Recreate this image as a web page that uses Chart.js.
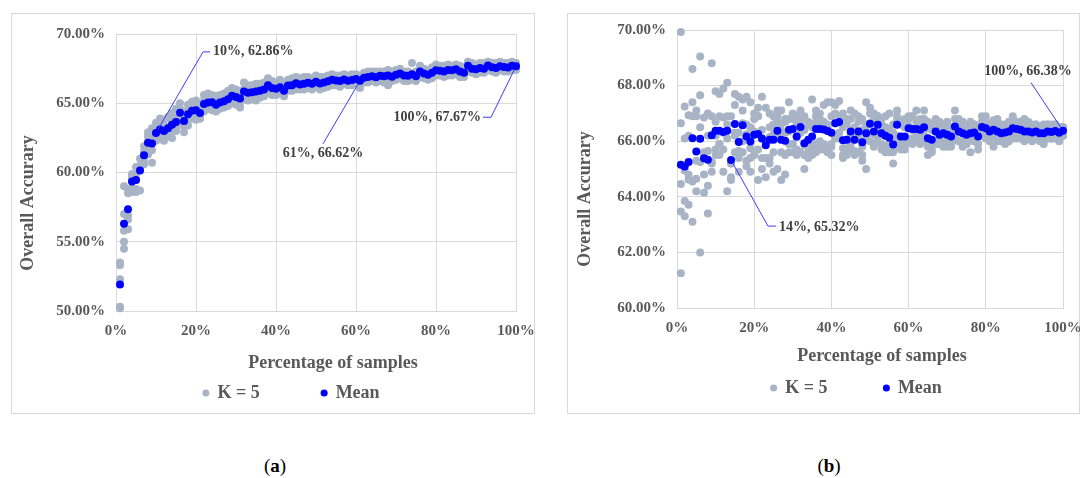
<!DOCTYPE html>
<html>
<head>
<meta charset="utf-8">
<script src="https://cdn.jsdelivr.net/npm/chart.js@4.4.1/dist/chart.umd.min.js"></script>
<style>
  html, body { margin: 0; padding: 0; background: #fff; }
  body { width: 1083px; height: 478px; position: relative; overflow: hidden;
         font-family: "Liberation Serif", "Times New Roman", serif; }
  .panel { position: absolute; }
  .panel canvas { display: block; }
  .caption { position: absolute; top: 455px; width: 60px; text-align: center;
             font-size: 19px; line-height: 22px; color: #000; }
</style>
</head>
<body>
<div class="panel" style="left:11px;top:13px;width:524px;height:401px"><canvas id="chartA" width="524" height="401"></canvas></div>
<div class="panel" style="left:567px;top:13px;width:513px;height:401px"><canvas id="chartB" width="513" height="401"></canvas></div>
<div class="caption" style="left:245px">(<b>a</b>)</div>
<div class="caption" style="left:799px">(<b>b</b>)</div>

<script>
// Percentage of the training samples used (x values shared by both panels)
const samplePct = [
  1, 2, 3, 4, 5, 6, 7, 8, 9, 10, 11, 12, 13, 14, 15, 16, 17, 18, 19, 20,
  21, 22, 23, 24, 25, 26, 27, 28, 29, 30, 31, 32, 33, 34, 35, 36, 37, 38, 39, 40,
  41, 42, 43, 44, 45, 46, 47, 48, 49, 50, 51, 52, 53, 54, 55, 56, 57, 58, 59, 60,
  61, 62, 63, 64, 65, 66, 67, 68, 69, 70, 71, 72, 73, 74, 75, 76, 77, 78, 79, 80,
  81, 82, 83, 84, 85, 86, 87, 88, 89, 90, 91, 92, 93, 94, 95, 96, 97, 98, 99, 100
];

// (a) mean overall accuracy (%) per sample percentage
const meanA = [
  51.92, 56.30, 57.35, 59.35, 59.45, 60.15, 61.25, 62.15, 62.10, 62.86,
  63.10, 63.00, 63.20, 63.45, 63.65, 64.32, 63.72, 64.20, 64.45, 64.50,
  64.30, 64.95, 65.05, 65.08, 64.90, 65.05, 65.15, 65.28, 65.55, 65.45,
  65.35, 65.85, 65.75, 65.80, 65.85, 65.90, 66.00, 66.30, 66.10, 66.05,
  66.15, 65.90, 66.28, 66.30, 66.45, 66.35, 66.40, 66.48, 66.40, 66.55,
  66.42, 66.50, 66.58, 66.70, 66.65, 66.60, 66.72, 66.62, 66.68, 66.75,
  66.62, 66.85, 66.90, 66.95, 66.88, 66.98, 66.95, 67.00, 66.92, 67.05,
  67.15, 67.00, 66.98, 67.10, 66.95, 67.30, 67.15, 67.05, 67.20, 67.38,
  67.35, 67.30, 67.40, 67.38, 67.45, 67.30, 67.20, 67.70, 67.50, 67.45,
  67.55, 67.50, 67.72, 67.60, 67.55, 67.68, 67.62, 67.58, 67.70, 67.67
];

// (a) the five fold results (%) for each sample percentage
const foldsA = [
  [50.3, 50.2, 52.3, 53.5, 53.3], [54.5, 55.0, 55.8, 57.0, 59.0], [56.9, 58.5, 58.8, 55.9, 56.6],
  [58.6, 59.8, 59.6, 58.9, 59.9], [58.6, 60.4, 58.8, 59.9, 59.5], [58.7, 61.0, 60.4, 60.2, 60.5],
  [60.6, 61.9, 61.4, 60.9, 61.5], [61.3, 62.9, 62.6, 61.8, 62.2], [60.7, 63.2, 61.6, 62.5, 62.5],
  [62.3, 63.6, 63.2, 62.5, 62.7], [62.4, 63.9, 63.4, 62.6, 63.2], [62.3, 63.8, 63.0, 62.7, 63.2],
  [62.6, 64.0, 63.3, 62.8, 63.3], [62.5, 64.3, 63.6, 63.0, 63.85], [63.0, 64.6, 63.9, 63.2, 63.55],
  [63.6, 65.0, 64.6, 63.9, 64.5], [62.9, 64.4, 63.9, 63.3, 64.1], [63.4, 64.9, 64.5, 63.8, 64.4],
  [63.9, 65.1, 64.7, 64.0, 64.55], [63.8, 65.2, 64.8, 64.1, 64.6], [63.9, 64.9, 64.6, 63.9, 64.2],
  [64.4, 65.6, 65.2, 64.5, 65.05], [64.6, 65.7, 65.3, 64.6, 65.05], [64.5, 65.6, 65.4, 64.7, 65.2],
  [64.4, 65.5, 65.1, 64.5, 65.0], [64.6, 65.6, 65.3, 64.7, 65.05], [64.7, 65.7, 65.4, 64.8, 65.15],
  [64.8, 65.9, 65.5, 64.9, 65.3], [65.0, 66.1, 65.8, 65.2, 65.65], [64.9, 66.0, 65.7, 65.0, 65.65],
  [64.7, 65.9, 65.6, 65.0, 65.55], [65.3, 66.5, 66.0, 65.5, 65.95], [65.2, 66.3, 66.0, 65.4, 65.85],
  [65.3, 66.3, 66.1, 65.4, 65.9], [65.2, 66.4, 66.1, 65.5, 66.05], [65.4, 66.4, 66.1, 65.6, 66.0],
  [65.5, 66.5, 66.2, 65.7, 66.1], [65.8, 66.8, 66.5, 66.0, 66.4], [65.6, 66.6, 66.3, 65.8, 66.2],
  [65.6, 66.5, 66.3, 65.7, 66.15], [65.7, 66.7, 66.3, 65.8, 66.25], [65.5, 66.4, 66.1, 65.6, 65.9],
  [65.9, 66.7, 66.5, 66.0, 66.3], [65.9, 66.8, 66.5, 66.0, 66.3], [66.0, 66.9, 66.6, 66.2, 66.55],
  [66.0, 66.8, 66.5, 66.1, 66.35], [66.0, 66.9, 66.6, 66.1, 66.4], [66.1, 66.9, 66.7, 66.2, 66.5],
  [66.0, 66.8, 66.6, 66.1, 66.5], [66.2, 67.0, 66.7, 66.3, 66.55], [66.0, 66.9, 66.6, 66.2, 66.4],
  [66.1, 66.9, 66.7, 66.3, 66.5], [66.2, 67.0, 66.8, 66.3, 66.6], [66.3, 67.1, 66.9, 66.5, 66.7],
  [66.3, 67.0, 66.8, 66.4, 66.75], [66.2, 67.0, 66.8, 66.4, 66.6], [66.4, 67.1, 66.9, 66.5, 66.7],
  [66.3, 67.0, 66.8, 66.4, 66.6], [66.3, 67.1, 66.8, 66.5, 66.7], [66.4, 67.1, 66.9, 66.5, 66.85],
  [66.1, 67.0, 66.9, 66.4, 66.7], [66.5, 67.2, 67.0, 66.6, 66.95], [66.5, 67.3, 67.1, 66.7, 66.9],
  [66.6, 67.3, 67.1, 66.7, 67.05], [66.5, 67.3, 67.0, 66.7, 66.9], [66.6, 67.3, 67.2, 66.8, 67.0],
  [66.5, 67.3, 67.1, 66.8, 67.05], [66.3, 67.4, 67.2, 66.8, 67.3], [66.6, 67.3, 67.1, 66.7, 66.9],
  [66.7, 67.4, 67.2, 66.8, 67.15], [66.8, 67.5, 67.3, 66.9, 67.25], [66.6, 67.3, 67.2, 66.8, 67.1],
  [66.6, 67.3, 67.2, 66.8, 67.0], [66.7, 67.9, 67.1, 66.8, 67.0], [66.6, 67.3, 67.1, 66.7, 67.05],
  [66.9, 67.7, 67.5, 67.0, 67.4], [66.8, 67.5, 67.3, 66.9, 67.25], [66.7, 67.4, 67.2, 66.8, 67.15],
  [66.8, 67.6, 67.4, 67.0, 67.2], [67.0, 67.8, 67.5, 67.1, 67.5], [67.0, 67.7, 67.5, 67.1, 67.45],
  [66.9, 67.7, 67.5, 67.1, 67.3], [67.0, 67.8, 67.6, 67.2, 67.4], [67.0, 67.7, 67.6, 67.1, 67.5],
  [67.1, 67.8, 67.6, 67.2, 67.55], [66.9, 67.7, 67.5, 67.0, 67.4], [66.9, 67.6, 67.4, 67.0, 67.1],
  [67.3, 68.0, 67.9, 67.5, 67.8], [67.2, 67.9, 67.6, 67.3, 67.5], [67.1, 67.8, 67.6, 67.2, 67.55],
  [67.2, 67.9, 67.7, 67.3, 67.65], [67.2, 67.9, 67.6, 67.3, 67.5], [67.4, 68.0, 67.9, 67.5, 67.8],
  [67.3, 67.9, 67.8, 67.4, 67.6], [67.2, 67.9, 67.7, 67.3, 67.65], [67.4, 68.0, 67.8, 67.5, 67.7],
  [67.3, 67.9, 67.8, 67.4, 67.7], [67.3, 67.9, 67.7, 67.4, 67.6], [67.4, 68.0, 67.9, 67.5, 67.7],
  [67.4, 67.9, 67.8, 67.5, 67.75]
];

// (b) mean overall accuracy (%) per sample percentage
const meanB = [
  65.15, 65.09, 65.25, 66.11, 65.63, 66.09, 65.39, 65.33, 66.21, 66.38,
  66.38, 66.33, 66.38, 65.32, 66.62, 65.97, 66.57, 66.17, 65.99, 66.23,
  66.26, 66.10, 65.85, 66.05, 66.05, 66.38, 66.05, 66.02, 66.41, 66.44,
  66.17, 66.51, 65.93, 66.05, 66.17, 66.44, 66.44, 66.42, 66.37, 66.30,
  66.65, 66.69, 66.03, 66.05, 66.35, 66.05, 66.35, 65.96, 66.29, 66.63,
  66.35, 66.59, 66.29, 66.20, 66.12, 65.88, 66.59, 66.17, 66.17, 66.47,
  66.44, 66.44, 66.41, 66.50, 66.11, 66.05, 66.35, 66.23, 66.29, 66.23,
  66.17, 66.53, 66.35, 66.29, 66.23, 66.29, 66.31, 66.17, 66.51, 66.47,
  66.35, 66.41, 66.35, 66.29, 66.31, 66.35, 66.47, 66.44, 66.41, 66.35,
  66.35, 66.31, 66.35, 66.29, 66.29, 66.35, 66.33, 66.37, 66.30, 66.38
];

// (b) the five fold results (%) for each sample percentage
const foldsB = [
  [69.93, 61.25, 66.65, 64.46, 63.47], [63.3, 67.25, 63.85, 66.1, 64.95], [66.93, 66.2, 64.79, 63.71, 64.62],
  [68.6, 67.4, 66.9, 64.55, 63.1], [67.1, 66.9, 65.3, 64.2, 64.65], [69.05, 67.65, 66.5, 62.0, 65.25],
  [66.85, 64.15, 64.8, 65.6, 65.55], [67.0, 63.4, 64.4, 66.2, 65.65], [68.8, 66.9, 65.2, 64.9, 65.25],
  [67.8, 66.7, 66.2, 65.7, 65.5], [67.7, 66.9, 65.5, 65.9, 65.9], [67.9, 66.85, 64.9, 65.7, 66.3],
  [68.1, 66.9, 64.2, 66.1, 66.6], [66.9, 64.7, 64.6, 65.2, 65.2], [67.7, 67.3, 66.2, 65.6, 66.3],
  [67.6, 66.3, 64.9, 65.4, 65.65], [67.5, 67.1, 66.0, 65.6, 66.65], [67.6, 66.6, 65.3, 65.1, 66.25],
  [67.4, 66.5, 65.4, 64.9, 65.75], [67.0, 66.8, 65.5, 65.5, 66.35], [67.2, 66.9, 64.6, 65.7, 66.9],
  [67.6, 66.4, 65.0, 65.4, 66.1], [67.2, 66.0, 64.7, 65.4, 65.95], [67.0, 66.5, 65.4, 65.2, 66.15],
  [66.6, 66.9, 64.9, 65.6, 66.25], [67.1, 66.9, 65.0, 66.2, 66.7], [67.1, 66.6, 64.6, 65.6, 66.35],
  [66.7, 66.8, 64.8, 65.5, 66.3], [67.4, 66.8, 65.6, 65.9, 66.35], [67.0, 66.9, 65.9, 65.6, 66.8],
  [66.9, 66.6, 65.5, 65.7, 66.15], [67.1, 66.8, 65.6, 66.3, 66.75], [66.9, 66.4, 65.0, 65.5, 65.85],
  [66.7, 66.6, 65.6, 65.4, 65.95], [67.5, 66.5, 65.5, 65.6, 65.75], [67.1, 66.9, 65.6, 65.9, 66.7],
  [67.0, 66.8, 65.7, 66.0, 66.7], [67.3, 66.7, 65.7, 65.9, 66.5], [67.4, 66.6, 65.6, 65.8, 66.45],
  [67.4, 66.9, 65.5, 65.8, 65.9], [67.3, 67.0, 66.1, 66.2, 66.65], [67.45, 66.9, 66.3, 66.1, 66.7],
  [67.0, 66.5, 65.4, 65.5, 65.75], [66.8, 66.6, 65.5, 65.6, 65.75], [67.1, 66.8, 65.7, 65.9, 66.25],
  [67.0, 66.5, 65.6, 65.5, 65.65], [66.9, 66.7, 65.6, 66.2, 66.35], [66.8, 66.4, 65.3, 65.5, 65.8],
  [67.4, 66.6, 65.0, 66.1, 66.35], [67.2, 67.0, 66.0, 66.3, 66.65], [67.0, 66.8, 65.8, 65.9, 66.25],
  [66.9, 66.9, 66.1, 66.3, 66.75], [66.8, 66.6, 65.7, 65.9, 66.45], [66.9, 66.5, 65.6, 65.8, 66.2],
  [67.0, 66.4, 65.7, 65.6, 65.9], [66.6, 66.3, 65.2, 65.6, 65.7], [67.1, 66.9, 66.0, 66.2, 66.75],
  [66.7, 66.6, 65.7, 65.8, 66.05], [66.8, 66.5, 65.7, 65.8, 66.05], [66.9, 66.8, 66.0, 66.1, 66.55],
  [66.9, 66.9, 65.9, 66.1, 66.4], [67.1, 66.7, 66.0, 66.1, 66.3], [66.8, 66.7, 65.9, 66.2, 66.45],
  [67.1, 66.8, 66.0, 66.2, 66.4], [66.7, 66.5, 65.5, 65.8, 66.05], [66.6, 66.4, 65.6, 65.7, 65.95],
  [66.8, 66.7, 65.9, 66.0, 66.35], [66.7, 66.5, 65.9, 65.9, 66.15], [66.6, 66.6, 65.8, 66.1, 66.35],
  [66.7, 66.5, 65.8, 66.0, 66.15], [66.5, 66.4, 65.8, 65.9, 66.25], [67.1, 66.8, 66.1, 66.2, 66.45],
  [66.8, 66.6, 66.0, 66.0, 66.35], [66.7, 66.6, 65.8, 66.0, 66.35], [66.6, 66.5, 65.9, 65.9, 66.25],
  [66.7, 66.5, 65.6, 66.1, 66.55], [66.6, 66.6, 66.0, 66.0, 66.35], [66.5, 66.4, 65.7, 65.9, 66.35],
  [66.9, 66.7, 66.2, 66.2, 66.55], [66.9, 66.7, 66.1, 66.2, 66.45], [66.6, 66.6, 66.0, 66.1, 66.45],
  [66.7, 66.6, 65.8, 66.2, 66.75], [66.8, 66.5, 66.0, 66.1, 66.35], [66.6, 66.5, 66.0, 66.0, 66.35],
  [66.6, 66.5, 65.9, 66.1, 66.45], [66.7, 66.6, 66.0, 66.1, 66.35], [66.9, 66.6, 66.1, 66.2, 66.55],
  [66.7, 66.7, 66.1, 66.2, 66.5], [66.7, 66.6, 66.1, 66.2, 66.45], [66.8, 66.5, 66.0, 66.1, 66.35],
  [66.7, 66.6, 66.1, 66.1, 66.25], [66.6, 66.5, 66.0, 66.1, 66.35], [66.6, 66.6, 66.1, 66.1, 66.35],
  [66.5, 66.5, 66.0, 66.1, 66.35], [66.6, 66.5, 65.9, 66.1, 66.35], [66.6, 66.6, 66.1, 66.1, 66.35],
  [66.6, 66.5, 66.1, 66.1, 66.35], [66.6, 66.6, 66.1, 66.2, 66.35], [66.5, 66.5, 66.0, 66.1, 66.4],
  [66.5, 66.5, 66.2, 66.2, 66.5]
];

// Tick values of each accuracy axis
const yTicksA = [50, 55, 60, 65, 70];
const yTicksB = [60, 62, 64, 66, 68, 70];
const xTicks = [0, 20, 40, 60, 80, 100];

// Labelled mean points (sample percentage)
const calloutPctA = [10, 61, 100];
const calloutPctB = [14, 100];

const seriesLabels = ['K = 5', 'Mean'];
const xTitle = 'Percentage of samples';
const yTitle = 'Overall Accurary';

const SERIF = "'Liberation Serif', 'Times New Roman', serif";
const GREY_TEXT = '#595959';
const GRID = '#d9d9d9';
Chart.defaults.font.family = SERIF;

// Frame around each panel
const panelFrame = {
  id: 'panelFrame',
  beforeDraw(chart) {
    const { ctx, width, height } = chart;
    ctx.save();
    ctx.fillStyle = '#fff';
    ctx.fillRect(0, 0, width, height);
    ctx.strokeStyle = GRID;
    ctx.lineWidth = 1;
    ctx.strokeRect(0.5, 0.5, width - 1, height - 1);
    ctx.restore();
  }
};

// Axis titles placed like the spreadsheet layout
const axisTitles = {
  id: 'axisTitles',
  afterDraw(chart, args, o) {
    const { ctx } = chart;
    ctx.save();
    ctx.fillStyle = GREY_TEXT;
    ctx.font = `bold 18px ${SERIF}`;
    ctx.textAlign = 'center';
    ctx.textBaseline = 'middle';
    ctx.fillText(o.xText, o.xAt[0], o.xAt[1]);
    ctx.translate(o.yAt[0], o.yAt[1]);
    ctx.rotate(-Math.PI / 2);
    ctx.fillText(o.yText, 0, 0);
    ctx.restore();
  }
};

// Value labels with leader lines, anchored on the mean points
const callouts = {
  id: 'callouts',
  afterDatasetsDraw(chart, args, o) {
    const { ctx, scales: { x, y } } = chart;
    ctx.save();
    o.items.forEach(c => {
      const px = x.getPixelForValue(c.pct);
      const py = y.getPixelForValue(c.value);
      const first = c.path[0];
      const len = Math.hypot(first[0], first[1]);
      const r = 4;
      ctx.strokeStyle = '#3c3cff';
      ctx.lineWidth = 1;
      ctx.beginPath();
      ctx.moveTo(px + first[0] / len * r, py + first[1] / len * r);
      c.path.forEach(([dx, dy]) => ctx.lineTo(px + dx, py + dy));
      ctx.stroke();
      ctx.fillStyle = '#404040';
      ctx.font = `bold 14px ${SERIF}`;
      ctx.textAlign = c.align;
      ctx.textBaseline = 'middle';
      ctx.fillText(`${c.pct}%, ${c.value.toFixed(2)}%`, px + c.text[0], py + c.text[1]);
    });
    ctx.restore();
  }
};

function foldPoints(folds) {
  const pts = [];
  folds.forEach((row, i) => row.forEach(v => pts.push({ x: samplePct[i], y: v })));
  return pts;
}
function meanPoints(means) {
  return means.map((v, i) => ({ x: samplePct[i], y: v }));
}

// Fixed axis box sizes; tick labels are allowed to spill outside the box
function fixAxisBox(size, horizontal) {
  return s => {
    if (horizontal) { s.height = size; s.paddingLeft = 0; s.paddingRight = 0; }
    else { s.width = size; s.paddingTop = 0; s.paddingBottom = 0; }
    s._computeLabelArea = () => undefined;
  };
}

function buildChart(id, g) {
  return new Chart(document.getElementById(id), {
    type: 'scatter',
    data: {
      datasets: [
        { label: seriesLabels[0], data: foldPoints(g.folds), backgroundColor: '#a8b4c5',
          pointRadius: 4, pointHoverRadius: 4, borderWidth: 0, pointBorderWidth: 0, order: 2, clip: false },
        { label: seriesLabels[1], data: meanPoints(g.means), backgroundColor: '#0000ff',
          pointRadius: 4, pointHoverRadius: 4, borderWidth: 0, pointBorderWidth: 0, order: 1, clip: false }
      ]
    },
    options: {
      responsive: false,
      animation: false,
      events: [],
      layout: { autoPadding: false, padding: g.pad },
      scales: {
        x: {
          type: 'linear', min: xTicks[0], max: xTicks[xTicks.length - 1],
          afterBuildTicks: s => { s.ticks = xTicks.map(v => ({ value: v })); },
          ticks: { padding: 11, color: GREY_TEXT, font: { size: 15, weight: 'bold' },
                   callback: v => v + '%' },
          grid: { color: GRID, drawTicks: false },
          border: { color: GRID },
          afterFit: fixAxisBox(g.xAxisHeight, true)
        },
        y: {
          type: 'linear', min: g.yTicks[0], max: g.yTicks[g.yTicks.length - 1],
          afterBuildTicks: s => { s.ticks = g.yTicks.map(v => ({ value: v })); },
          ticks: { padding: 11, color: GREY_TEXT, font: { size: 15, weight: 'bold' },
                   callback: v => v.toFixed(2) + '%' },
          grid: { color: GRID, drawTicks: false },
          border: { color: GRID },
          afterFit: fixAxisBox(g.yAxisWidth, false)
        }
      },
      plugins: {
        tooltip: { enabled: false },
        legend: {
          position: 'bottom',
          labels: {
            usePointStyle: true, pointStyle: 'circle', boxWidth: 5, boxHeight: 5,
            padding: g.legendGap, color: GREY_TEXT, font: { size: 18, weight: 'bold' },
            sort: (a, b) => a.datasetIndex - b.datasetIndex
          }
        },
        axisTitles: { xText: xTitle, yText: yTitle, xAt: g.xTitleAt, yAt: g.yTitleAt },
        callouts: { items: g.callouts }
      }
    },
    plugins: [panelFrame, callouts, axisTitles]
  });
}

buildChart('chartA', {
  folds: foldsA, means: meanA, yTicks: yTicksA,
  pad: { left: 56, right: 19, top: 21, bottom: 2 },
  yAxisWidth: 49, xAxisHeight: 11, legendGap: 62,
  xTitleAt: [322, 350], yTitleAt: [17, 190],
  callouts: [
    { pct: calloutPctA[0], value: meanA[calloutPctA[0] - 1], path: [[47, -81], [54, -81]], text: [57, -81], align: 'left' },
    { pct: calloutPctA[1], value: meanA[calloutPctA[1] - 1], path: [[-37, 63]], text: [-37, 73], align: 'center' },
    { pct: calloutPctA[2], value: meanA[calloutPctA[2] - 1], path: [[-25, 51], [-33, 51]], text: [-35, 51], align: 'right' }
  ]
});

buildChart('chartB', {
  folds: foldsB, means: meanB, yTicks: yTicksB,
  pad: { left: 83, right: 17, top: 17, bottom: 7 },
  yAxisWidth: 27, xAxisHeight: 14.5, legendGap: 56.5,
  xTitleAt: [315, 343], yTitleAt: [18, 186],
  callouts: [
    { pct: calloutPctB[0], value: meanB[calloutPctB[0] - 1], path: [[37, 66], [45, 66]], text: [48, 67], align: 'left' },
    { pct: calloutPctB[1], value: meanB[calloutPctB[1] - 1], path: [[-32, -48]], text: [-35, -59], align: 'center' }
  ]
});
</script>
</body>
</html>
